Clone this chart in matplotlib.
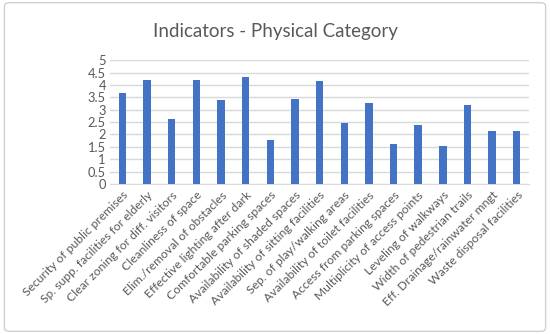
import matplotlib
matplotlib.use("Agg")
import matplotlib.pyplot as plt
from matplotlib.patches import FancyBboxPatch

categories = [
    "Security of public premises",
    "Sp. supp. facilities for elderly",
    "Clear zoning for diff. visitors",
    "Cleanliness of space",
    "Elim./removal of obstacles",
    "Effective lighting after dark",
    "Comfortable parking spaces",
    "Availability of shaded spaces",
    "Availability of sitting facilities",
    "Sep. of play/walking areas",
    "Availability of toilet facilities",
    "Access from parking spaces",
    "Multiplicity of access points",
    "Leveling of walkways",
    "Width of pedestrian trails",
    "Eff. Drainage/rainwater mngt",
    "Waste disposal facilities",
]
values = [3.66, 4.18, 2.62, 4.18, 3.40, 4.33, 1.76, 3.43, 4.16,
          2.45, 3.26, 1.63, 2.39, 1.52, 3.20, 2.16, 2.16]
yticks = [0, 0.5, 1, 1.5, 2, 2.5, 3, 3.5, 4, 4.5, 5]
ytick_labels = ["0", "0.5", "1", "1.5", "2", "2.5", "3", "3.5", "4", "4.5", "5"]

plt.rcParams['font.family'] = ['Lato', 'DejaVu Sans']

fig = plt.figure(figsize=(5.5, 3.34), dpi=100)
border = FancyBboxPatch((0.008, 0.008), 0.984, 0.984, boxstyle="round,pad=0,rounding_size=0.01",
                        transform=fig.transFigure, facecolor="none", edgecolor="#d0d0d0", lw=1,
                        zorder=-1)
fig.patches.append(border)

ax = fig.add_axes([0.2, 0.449, 0.762, 0.371])
x = list(range(len(categories)))
ax.bar(x, values, width=0.3, color="#4472C4", zorder=3)
ax.set_xlim(-0.5, len(categories) - 0.5)
ax.set_ylim(0, 5)
ax.set_yticks(yticks)
ax.set_yticklabels(ytick_labels)
ax.yaxis.grid(True, color="#d9d9d9", lw=1, zorder=0)
for s in ["top", "right", "left"]:
    ax.spines[s].set_visible(False)
ax.spines["bottom"].set_color("#d9d9d9")
ax.tick_params(axis="y", length=0, labelsize=9.3, labelcolor="#595959", pad=3)
ax.tick_params(axis="x", length=0, labelsize=8.7, labelcolor="#595959", pad=4)
ax.set_xticks(x)
ax.set_xticklabels(categories, rotation=45, ha="right", rotation_mode="anchor")
ax.set_axisbelow(True)

fig.text(0.5, 0.907, "Indicators - Physical Category", ha="center", va="center",
         fontsize=13.5, color="#595959")

fig.savefig("out.png", dpi=100)
